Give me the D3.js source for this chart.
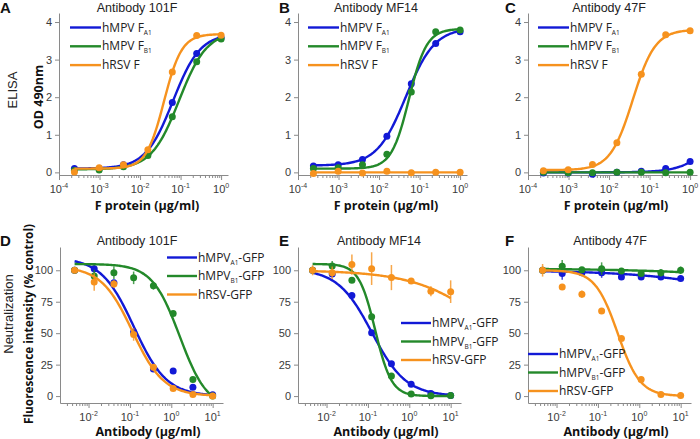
<!DOCTYPE html>
<html>
<head>
<meta charset="utf-8">
<script src="https://cdn.jsdelivr.net/npm/d3@7"></script>
<style>
  body { margin: 0; background: #fff; }
  svg { display: block; }
</style>
</head>
<body>
<div id="chart"></div>
<script>
// ---- data ----
const elisaDoses = [0.00024, 0.00098, 0.0039, 0.0156, 0.0625, 0.25, 1];
const neutDoses = [0.0046, 0.0137, 0.041, 0.123, 0.37, 1.11, 3.33, 10];

const elisaTicks = [1e-4, 1e-3, 1e-2, 1e-1, 1];
const elisaTickExp = ["-4", "-3", "-2", "-1", "0"];
const neutTicks = [1e-2, 1e-1, 1, 10];
const neutTickExp = ["-2", "-1", "0", "1"];
const odTicks = [0, 1, 2, 3, 4];
const pctTicks = [0, 25, 50, 75, 100];

// ELISA OD values
const a101F_A1 = [0.10, 0.10, 0.20, 0.50, 1.86, 3.16, 3.58];
const a101F_B1 = [0.05, 0.06, 0.15, 0.45, 1.48, 2.94, 3.55];
const a101F_RSV = [0.01, 0.12, 0.20, 0.60, 2.67, 3.64, 3.65];
const aMF14_A1 = [0.17, 0.20, 0.34, 0.96, 2.36, 3.43, 3.74];
const aMF14_B1 = [0.10, 0.12, 0.20, 0.48, 2.14, 3.74, 3.79];
const aMF14_RSV = [-0.03, 0.03, -0.02, 0.03, -0.01, 0.0, 0.0];
const a47F_A1 = [-0.02, -0.02, -0.05, 0.0, 0.03, 0.10, 0.29];
const a47F_B1 = [0.0, -0.01, -0.01, 0.0, 0.0, -0.01, 0.0];
const a47F_RSV = [0.04, 0.07, 0.21, 0.79, 2.61, 3.66, 3.77];

// neutralization % control values and error bars
const n101F_A1 = [100, 101.3, 90, 51, 21.5, 20, 7, 1];
const n101F_B1 = [100, 95.5, 98, 94, 87.6, 65.6, 13.2, 0];
const n101F_RSV = [100, 90.7, 89, 49, 23, 6, 1.3, 0];
const e101F_A1 = [0, 3, 0, 0, 0, 0, 0, 0];
const e101F_B1 = [0, 5, 5, 5, 3, 0, 0, 0];
const e101F_RSV = [0, 7, 3, 5, 0, 0, 0, 0];

const nMF14_A1 = [100, 97, 80, 50.3, 25.7, 9.5, 2, 0.5];
const nMF14_B1 = [100, 103.4, 92, 63, 16, 1.6, 0.3, 0.5];
const nMF14_RSV = [100, 98, 104.5, 101.3, 94.2, 91.5, 83.3, 83];
const eMF14_A1 = [0, 0, 0, 0, 0, 0, 0, 0];
const eMF14_B1 = [0, 4, 0, 0, 0, 0, 0, 0];
const eMF14_RSV = [4, 5, 8, 13, 10, 2, 4, 9];

const n47F_A1 = [100, 97.4, 98, 98, 94.7, 94.7, 94.7, 93.4];
const n47F_B1 = [100, 103.2, 100.5, 101.3, 99.5, 97.4, 98, 100];
const n47F_RSV = [100, 86.8, 81, 67.7, 45.8, 13.2, 1.3, 0.5];
const e47F_A1 = [0, 5, 2, 4, 0, 0, 0, 0];
const e47F_B1 = [0, 5, 2, 5, 0, 2, 3, 3];
const e47F_RSV = [5, 0, 3, 0, 0, 0, 0, 0];

// fitted four-parameter curves: [value at low dose, value at high dose, EC50, hill]
const f101F_A1 = [0.10, 3.70, 0.065, 1.29];
const f101F_B1 = [0.08, 3.75, 0.092, 1.27];
const f101F_RSV = [0.10, 3.68, 0.039, 1.98];
const fMF14_A1 = [0.18, 3.85, 0.046, 1.22];
const fMF14_B1 = [0.10, 3.82, 0.055, 2.0];
const fMF14_RSV = [0.0, 0.0, 1, 1];
const f47F_A1 = [0.0, 3.8, 10, 1.1];
const f47F_B1 = [0.0, 0.0, 1, 1];
const f47F_RSV = [0.06, 3.80, 0.0385, 1.57];

const fN101F_A1 = [110, 0, 0.125, 1.1];
const fN101F_B1 = [105, -10, 1.6, 1.3];
const fN101F_RSV = [103, 0, 0.115, 1.15];
const fNMF14_A1 = [101, 0, 0.125, 1.05];
const fNMF14_B1 = [105, 0, 0.15, 2.2];
const fNMF14_RSV = [100, 0, 140, 0.477];
const fN47F_A1 = [100, 0, 4.4e4, 0.3];
const fN47F_B1 = [101.5, 0, 2.8e7, 0.235];
const fN47F_RSV = [100, 0, 0.3, 1.6];

const blue = "#1219d6", green = "#23892a", orange = "#f6921e";

const svg = d3.select("#chart").append("svg")
    .attr("width", 700).attr("height", 439)
    .style("font-family", "'Liberation Sans', Arial, sans-serif");

let fourPL = (p, x) => p[1] + (p[0] - p[1]) / (1 + Math.pow(x / p[2], p[3]));

let drawPanel = (cfg) => {
    const g = svg.append("g");
    const x = d3.scaleLog().domain(cfg.xDomain).range([cfg.ax, cfg.ax + cfg.xLen]);
    const y = d3.scaleLinear().domain(cfg.yDomain).range([cfg.bottom, cfg.top]);

    // minor log ticks
    let minors = [];
    const lo = Math.floor(Math.log10(cfg.xDomain[0])), hi = Math.ceil(Math.log10(cfg.xDomain[1]));
    for (let e = lo; e < hi; e++) {
        for (let m = 2; m <= 9; m++) {
            const v = m * Math.pow(10, e);
            if (v >= cfg.xDomain[0] && v <= cfg.xDomain[1]) minors.push(v);
        }
    }
    g.append("g").attr("transform", `translate(0,${cfg.bottom})`)
        .call(d3.axisBottom(x).tickValues(cfg.xTicks).tickSize(5).tickSizeOuter(0).tickFormat(""));
    g.append("g").attr("transform", `translate(0,${cfg.bottom})`)
        .call(d3.axisBottom(x).tickValues(minors).tickSize(3).tickSizeOuter(0).tickFormat(""))
        .select(".domain").remove();
    const yAxis = g.append("g").attr("transform", `translate(${cfg.ax},0)`)
        .call(d3.axisLeft(y).tickValues(cfg.yTicks).tickSize(4).tickSizeOuter(0).tickFormat(d3.format("d")));
    g.selectAll(".domain, .tick line").attr("stroke", "#8a8a8a");
    yAxis.selectAll("text").attr("fill", "#3a3a3a").style("font-size", "11px")
        .style("font-family", "'Liberation Sans', Arial, sans-serif");

    // x tick labels with superscripts
    cfg.xTicks.forEach((t, i) => {
        const tx = g.append("text")
            .attr("x", x(t)).attr("y", cfg.bottom + 18)
            .attr("text-anchor", "middle")
            .attr("fill", "#3a3a3a").style("font-size", "11px");
        tx.append("tspan").text("10");
        tx.append("tspan").attr("dy", -5).style("font-size", "7px").text(cfg.xTickExp[i]);
    });

    // title and letter
    g.append("text").attr("x", cfg.titleX).attr("y", cfg.titleY)
        .attr("text-anchor", "middle").style("font-size", "12.5px").attr("fill", "#222")
        .text(cfg.title);
    g.append("text").attr("x", cfg.letterX).attr("y", cfg.titleY + 1)
        .style("font-size", "15px").style("font-weight", "bold").attr("fill", "#111")
        .text(cfg.letter);

    // x axis label
    g.append("text").attr("x", cfg.ax + 88).attr("y", cfg.xLabelY)
        .attr("text-anchor", "middle").style("font-size", "12.5px").style("font-weight", "bold")
        .style("font-family", "'Open Sans', 'Noto Sans', sans-serif").attr("fill", "#111")
        .text(cfg.xLabel);

    const line = d3.line().x(d => x(d[0])).y(d => y(d[1]));
    cfg.series.forEach(s => {
        const x0 = Math.log10(cfg.doses[0]), x1 = Math.log10(cfg.doses[cfg.doses.length - 1]);
        const pts = d3.range(0, 121).map(k => {
            const xv = Math.pow(10, x0 + (x1 - x0) * k / 120);
            return [xv, fourPL(s.fit, xv)];
        });
        g.append("path").datum(pts).attr("d", line)
            .attr("fill", "none").attr("stroke", s.color).attr("stroke-width", 2.4);
        if (s.err) {
            g.selectAll(null).data(cfg.doses.map((d, i) => [d, s.values[i], s.err[i]]).filter(d => d[2] > 0))
                .enter().append("line")
                .attr("x1", d => x(d[0])).attr("x2", d => x(d[0]))
                .attr("y1", d => y(d[1] - d[2])).attr("y2", d => y(d[1] + d[2]))
                .attr("stroke", s.color).attr("stroke-width", 1.5).attr("opacity", 0.8);
        }
        g.selectAll(null).data(cfg.doses.map((d, i) => [d, s.values[i]]))
            .enter().append("circle")
            .attr("cx", d => x(d[0])).attr("cy", d => y(d[1])).attr("r", 3.5)
            .attr("fill", s.color);
    });

    // legend
    cfg.series.forEach((s, i) => {
        const ly = cfg.legY + i * cfg.legStep;
        g.append("line").attr("x1", cfg.legX).attr("x2", cfg.legX + cfg.legLen)
            .attr("y1", ly).attr("y2", ly).attr("stroke", s.color).attr("stroke-width", 2.4);
        const t = g.append("text").attr("x", cfg.legX + cfg.legLen + 1).attr("y", ly + 4)
            .style("font-size", "12px").style("font-family", "'Open Sans', 'Noto Sans', sans-serif")
            .attr("fill", "#222");
        t.append("tspan").text(s.label[0]);
        if (s.label[1]) {
            t.append("tspan").attr("dy", 3).style("font-size", "6.5px").text(s.label[1]);
            t.append("tspan").attr("dy", -3).text(s.label[2] || "");
        }
    });
};

const topRow = { xDomain: [1e-4, 1.48], xLen: 169, yDomain: [-0.07, 4.24], top: 13, bottom: 175,
    xTicks: elisaTicks, xTickExp: elisaTickExp, yTicks: odTicks, doses: elisaDoses,
    titleY: 12, xLabelY: 210, xLabel: "F protein (\u00b5g/ml)", legY: 27.5, legStep: 18.8, legLen: 31 };
const botRow = { xDomain: [Math.pow(10, -2.69), Math.pow(10, 1.25)], xLen: 163, yDomain: [-5.5, 118.5],
    top: 247, bottom: 403, xTicks: neutTicks, xTickExp: neutTickExp, yTicks: pctTicks, doses: neutDoses,
    titleY: 245, xLabelY: 436, xLabel: "Antibody (\u00b5g/ml)", legStep: 18.5, legLen: 30 };

const elisaLabels = [["hMPV F", "A1"], ["hMPV F", "B1"], ["hRSV F"]];
const neutLabels = [["hMPV", "A1", "-GFP"], ["hMPV", "B1", "-GFP"], ["hRSV-GFP"]];

drawPanel(Object.assign({}, topRow, { ax: 59, title: "Antibody 101F", titleX: 137, letter: "A", letterX: 0, legX: 70,
    series: [
        { color: blue, values: a101F_A1, fit: f101F_A1, label: elisaLabels[0] },
        { color: green, values: a101F_B1, fit: f101F_B1, label: elisaLabels[1] },
        { color: orange, values: a101F_RSV, fit: f101F_RSV, label: elisaLabels[2] }] }));
drawPanel(Object.assign({}, topRow, { ax: 298, title: "Antibody MF14", titleX: 376, letter: "B", letterX: 279, legX: 308,
    series: [
        { color: blue, values: aMF14_A1, fit: fMF14_A1, label: elisaLabels[0] },
        { color: green, values: aMF14_B1, fit: fMF14_B1, label: elisaLabels[1] },
        { color: orange, values: aMF14_RSV, fit: fMF14_RSV, label: elisaLabels[2] }] }));
drawPanel(Object.assign({}, topRow, { ax: 528, title: "Antibody 47F", titleX: 609, letter: "C", letterX: 505, legX: 538,
    series: [
        { color: blue, values: a47F_A1, fit: f47F_A1, label: elisaLabels[0] },
        { color: green, values: a47F_B1, fit: f47F_B1, label: elisaLabels[1] },
        { color: orange, values: a47F_RSV, fit: f47F_RSV, label: elisaLabels[2] }] }));

drawPanel(Object.assign({}, botRow, { ax: 60, title: "Antibody 101F", titleX: 137, letter: "D", letterX: 0,
    legX: 167, legY: 257.5,
    series: [
        { color: blue, values: n101F_A1, err: e101F_A1, fit: fN101F_A1, label: neutLabels[0] },
        { color: green, values: n101F_B1, err: e101F_B1, fit: fN101F_B1, label: neutLabels[1] },
        { color: orange, values: n101F_RSV, err: e101F_RSV, fit: fN101F_RSV, label: neutLabels[2] }] }));
drawPanel(Object.assign({}, botRow, { ax: 298, title: "Antibody MF14", titleX: 379, letter: "E", letterX: 279,
    legX: 401, legY: 323,
    series: [
        { color: blue, values: nMF14_A1, err: eMF14_A1, fit: fNMF14_A1, label: neutLabels[0] },
        { color: green, values: nMF14_B1, err: eMF14_B1, fit: fNMF14_B1, label: neutLabels[1] },
        { color: orange, values: nMF14_RSV, err: eMF14_RSV, fit: fNMF14_RSV, label: neutLabels[2] }] }));
drawPanel(Object.assign({}, botRow, { ax: 528, title: "Antibody 47F", titleX: 610, letter: "F", letterX: 505,
    legX: 528, legY: 354,
    series: [
        { color: blue, values: n47F_A1, err: e47F_A1, fit: fN47F_A1, label: neutLabels[0] },
        { color: green, values: n47F_B1, err: e47F_B1, fit: fN47F_B1, label: neutLabels[1] },
        { color: orange, values: n47F_RSV, err: e47F_RSV, fit: fN47F_RSV, label: neutLabels[2] }] }));

// row labels
svg.append("text").attr("transform", "translate(17,90) rotate(-90)")
    .attr("text-anchor", "middle").style("font-size", "13px").attr("fill", "#222").text("ELISA");
svg.append("text").attr("transform", "translate(43,97) rotate(-90)")
    .attr("text-anchor", "middle").style("font-size", "12.5px").style("font-weight", "bold")
    .style("font-family", "'Open Sans', 'Noto Sans', sans-serif").attr("fill", "#111").text("OD 490nm");
svg.append("text").attr("transform", "translate(13,314) rotate(-90)")
    .attr("text-anchor", "middle").style("font-size", "13px").attr("fill", "#222").text("Neutralization");
svg.append("text").attr("transform", "translate(33,324) rotate(-90)")
    .attr("text-anchor", "middle").style("font-size", "11.8px").style("font-weight", "bold")
    .style("font-family", "'Open Sans', 'Noto Sans', sans-serif").attr("fill", "#111")
    .text("Fluorescence intensity (% control)");
</script>
</body>
</html>
